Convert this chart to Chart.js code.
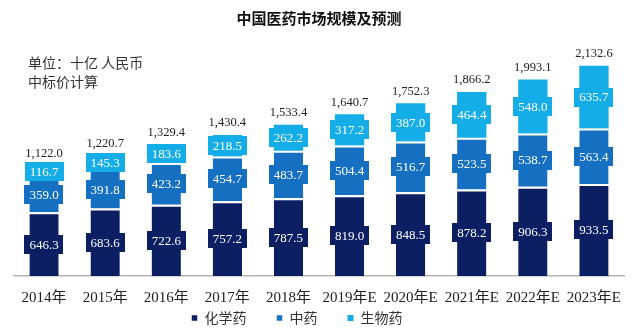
<!DOCTYPE html>
<html>
<head>
<meta charset="utf-8">
<script src="https://cdn.jsdelivr.net/npm/chart.js@4.4.1/dist/chart.umd.min.js"></script>
<style>
  html, body { margin: 0; padding: 0; background: #fff; }
  #wrap { width: 640px; height: 334px; position: relative; }
</style>
</head>
<body>
<div id="wrap"><canvas id="chart"></canvas></div>
<script>
// 中国医药市场规模（十亿人民币）
const years = ['2014年', '2015年', '2016年', '2017年', '2018年', '2019年E', '2020年E', '2021年E', '2022年E', '2023年E'];
const chemical = [646.3, 683.6, 722.6, 757.2, 787.5, 819.0, 848.5, 878.2, 906.3, 933.5];
const tcm = [359.0, 391.8, 423.2, 454.7, 483.7, 504.4, 516.7, 523.5, 538.7, 563.4];
const biologic = [116.7, 145.3, 183.6, 218.5, 262.2, 317.2, 387.0, 464.4, 548.0, 635.7];
const totals = [1122.0, 1220.7, 1329.4, 1430.4, 1533.4, 1640.7, 1752.3, 1866.2, 1993.1, 2132.6];
const seriesNames = ['化学药', '中药', '生物药'];

const COLORS = ['#0c1f63', '#1670c2', '#14ade8'];
const SERIF = "'Liberation Serif', 'Times New Roman', 'Noto Sans CJK SC', serif";
const CJK = "'Noto Sans CJK SC', sans-serif";

const fmt = v => v.toLocaleString('en-US', { minimumFractionDigits: 1, maximumFractionDigits: 1 });

// Value boxes on each segment, totals above each stack, unit note at top left
const labelPlugin = {
  id: 'stackLabels',
  afterLayout(chart) {
    // legend row sits just under the year labels, a little left of centre
    const lg = chart.legend;
    if (lg) {
      const h = lg.bottom - lg.top;
      lg.left = 0; lg.right = 594;
      lg.top = 281; lg.bottom = 281 + h;
    }
  },
  afterDatasetsDraw(chart) {
    const ctx = chart.ctx;
    ctx.save();
    ctx.textAlign = 'center';
    ctx.textBaseline = 'middle';
    ctx.font = '13px ' + SERIF;
    chart.data.datasets.forEach((ds, di) => {
      const meta = chart.getDatasetMeta(di);
      meta.data.forEach((bar, i) => {
        const txt = fmt(ds.data[i]);
        const cy = (bar.y + bar.base) / 2;
        const w = ctx.measureText(txt).width + 10;
        const h = 19;
        ctx.fillStyle = ds.backgroundColor;
        ctx.fillRect(Math.round(bar.x - w / 2), Math.round(cy - h / 2), Math.round(w), h);
        ctx.fillStyle = '#ffffff';
        ctx.fillText(txt, bar.x, cy + 1);
      });
    });
    // totals
    const topMeta = chart.getDatasetMeta(chart.data.datasets.length - 1);
    ctx.font = '12.5px ' + SERIF;
    ctx.fillStyle = '#222';
    topMeta.data.forEach((bar, i) => {
      ctx.fillText(fmt(totals[i]), bar.x, bar.y - 12);
    });
    ctx.restore();
  },
  afterDraw(chart) {
    const ctx = chart.ctx;
    ctx.save();
    ctx.fillStyle = '#333';
    ctx.font = '14px ' + CJK;
    ctx.textAlign = 'left';
    ctx.textBaseline = 'middle';
    ctx.fillText('单位：十亿 人民币', 28, 63);
    ctx.fillText('中标价计算', 28, 82);
    ctx.restore();
  }
};

const makeSet = (idx, data, sep) => ({
  label: seriesNames[idx],
  data: data,
  backgroundColor: COLORS[idx],
  borderColor: '#ffffff',
  borderWidth: sep ? { top: 2, bottom: 0, left: 0, right: 0 } : 0,
  borderSkipped: false,
  barPercentage: 0.48,
  categoryPercentage: 1.0
});

new Chart(document.getElementById('chart'), {
  type: 'bar',
  data: {
    labels: years,
    datasets: [
      makeSet(0, chemical, true),
      makeSet(1, tcm, true),
      makeSet(2, biologic, false)
    ]
  },
  options: {
    responsive: true,
    maintainAspectRatio: false,
    animation: false,
    layout: { padding: { left: 13.5, right: 15.5, top: 0, bottom: -40 } },
    scales: {
      x: {
        stacked: true,
        grid: { display: false, drawTicks: false },
        border: { display: true, color: '#b3b3b3', width: 1.5 },
        ticks: { color: '#222', font: { family: SERIF, size: 15 }, padding: 13, maxRotation: 0, autoSkip: false }
      },
      y: {
        stacked: true,
        display: false,
        min: 0,
        max: 2505
      }
    },
    plugins: {
      title: {
        display: true,
        text: '中国医药市场规模及预测',
        color: '#111',
        font: { family: CJK, size: 15, weight: 'bold' },
        padding: { top: 9, bottom: 2 }
      },
      legend: {
        position: 'bottom',
        labels: {
          boxWidth: 6,
          boxHeight: 6,
          padding: 30,
          color: '#333',
          font: { family: CJK, size: 14 }
        }
      },
      tooltip: { enabled: false }
    }
  },
  plugins: [labelPlugin]
});
</script>
</body>
</html>
